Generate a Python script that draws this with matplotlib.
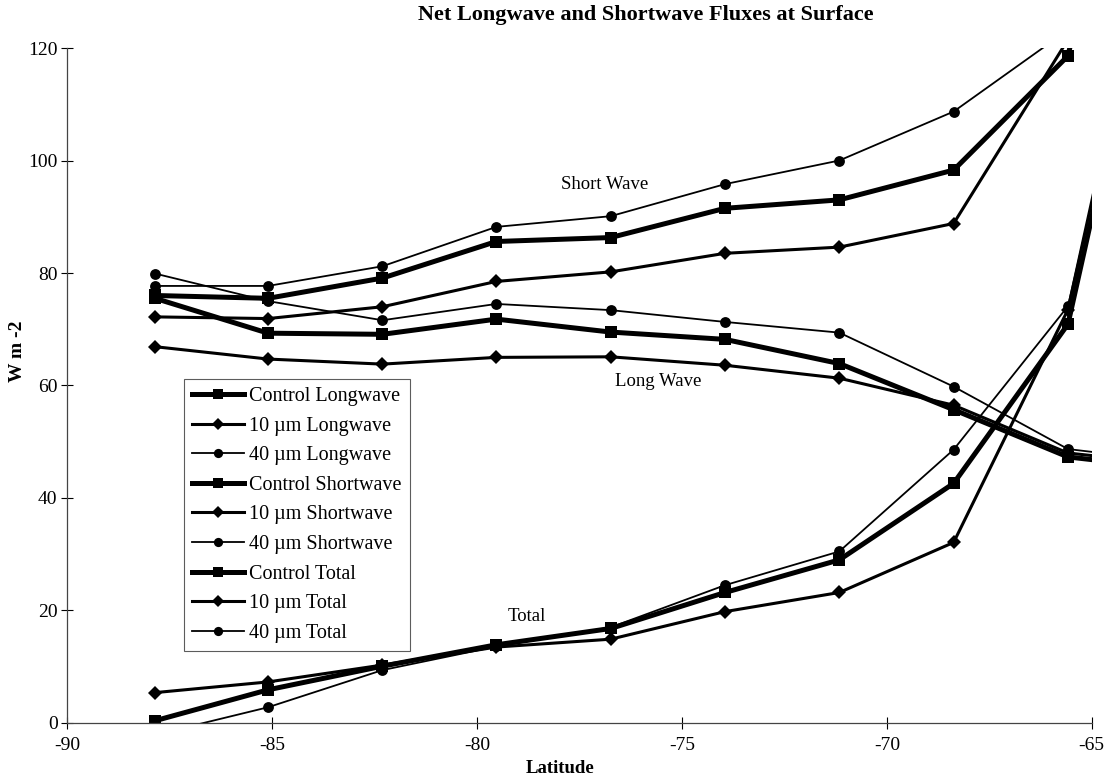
import matplotlib

matplotlib.use("Agg")

import matplotlib.pyplot as plt

plt.rcParams["font.family"] = ["Liberation Serif", "DejaVu Serif"]
plt.rcParams["axes.unicode_minus"] = False

# Gaussian-grid latitudes (the last one lies just past the plotted range)
lat = [-87.86, -85.10, -82.31, -79.53, -76.74, -73.95, -71.16, -68.37, -65.58, -62.79]

ctrl_lw = [75.5, 69.3, 69.1, 71.8, 69.5, 68.2, 63.9, 55.7, 47.3, 45.0]
ten_lw = [66.9, 64.7, 63.8, 65.0, 65.1, 63.6, 61.3, 56.5, 48.0, 45.8]
forty_lw = [79.9, 75.0, 71.6, 74.5, 73.4, 71.3, 69.4, 59.8, 48.7, 46.3]

ctrl_sw = [76.0, 75.5, 79.1, 85.6, 86.3, 91.5, 93.0, 98.3, 118.6, 207.0]
ten_sw = [72.2, 71.9, 74.0, 78.5, 80.2, 83.5, 84.6, 88.8, 121.5, 212.0]
forty_sw = [77.7, 77.7, 81.2, 88.2, 90.1, 95.8, 100.0, 108.7, 123.2, 208.0]

ctrl_tot = [0.4, 5.9, 10.1, 13.9, 16.8, 23.2, 29.0, 42.6, 70.9, 162.0]
ten_tot = [5.4, 7.3, 10.3, 13.5, 14.9, 19.8, 23.2, 32.1, 73.5, 166.0]
forty_tot = [-2.1, 2.8, 9.4, 13.6, 17.0, 24.5, 30.5, 48.6, 74.1, 161.7]

series = [
    ("Control Longwave", ctrl_lw, "s"),
    ("10 \u00b5m Longwave", ten_lw, "D"),
    ("40 \u00b5m Longwave", forty_lw, "o"),
    ("Control Shortwave", ctrl_sw, "s"),
    ("10 \u00b5m Shortwave", ten_sw, "D"),
    ("40 \u00b5m Shortwave", forty_sw, "o"),
    ("Control Total", ctrl_tot, "s"),
    ("10 \u00b5m Total", ten_tot, "D"),
    ("40 \u00b5m Total", forty_tot, "o"),
]
# line width / marker size per run type
STYLE = {"s": (3.6, 8.5), "D": (2.2, 7.5), "o": (1.3, 7.8)}

fig = plt.figure(figsize=(11.07, 7.78), dpi=100)
ax = fig.add_axes([0.0608, 0.0707, 0.9254, 0.8676])

for label, vals, mk in series:
    lw, ms = STYLE[mk]
    ax.plot(lat, vals, color="black", linewidth=lw, marker=mk, markersize=ms,
            markeredgewidth=0, label=label, solid_joinstyle="miter")

ax.set_xlim(-90, -65)
ax.set_ylim(0, 120)
ax.set_xticks(range(-90, -64, 5))
ax.set_yticks(range(0, 121, 20))
ax.tick_params(direction="inout", length=8, width=0.8, labelsize=14,
               colors="black")
ax.tick_params(axis="x", pad=6)
ax.tick_params(axis="y", pad=3)
for side in ("top", "right"):
    ax.spines[side].set_visible(False)
for side in ("left", "bottom"):
    ax.spines[side].set_color("#444444")
    ax.spines[side].set_linewidth(0.9)

ax.text(-76.88, 95.7, "Short Wave", fontsize=13.5, ha="center", va="center")
ax.text(-75.59, 60.7, "Long Wave", fontsize=13.5, ha="center", va="center")
ax.text(-78.78, 19.0, "Total", fontsize=13.5, ha="center", va="center")

fig.text(0.583, 0.981, "Net Longwave and Shortwave Fluxes at Surface",
         fontsize=16, fontweight="bold", ha="center", va="center")
fig.text(0.506, 0.012, "Latitude", fontsize=13.5, fontweight="bold",
         ha="center", va="center")
fig.text(0.016, 0.549, "W m -2", fontsize=14, fontweight="bold",
         rotation=90, ha="center", va="center")

leg = ax.legend(loc="upper left", bbox_to_anchor=(184 / 1107, 1 - 379 / 778),
                bbox_transform=fig.transFigure, borderaxespad=0,
                fontsize=14.5, frameon=True, fancybox=False, shadow=False,
                handlelength=2.6, handletextpad=0.25, labelspacing=0.52,
                borderpad=0.4, markerscale=0.85)
leg.get_frame().set_edgecolor("#333333")
leg.get_frame().set_linewidth(0.8)

fig.savefig("out.png", dpi=100)
